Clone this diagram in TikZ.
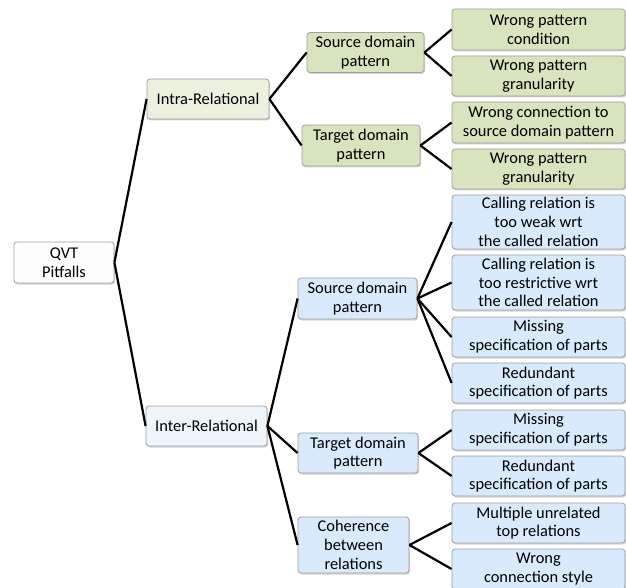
\documentclass[tikz,border=0pt]{standalone}
\usepackage{fontspec}
\setmainfont{Carlito}
\usetikzlibrary{shadows}

\definecolor{rootfill}{RGB}{253,253,253}
\definecolor{intrafill}{RGB}{235,241,222}
\definecolor{greenfill}{RGB}{215,228,189}
\definecolor{interfill}{RGB}{238,245,250}
\definecolor{bluefill}{RGB}{216,234,251}
\definecolor{boxline}{RGB}{160,160,160}

\tikzset{
  pitbox/.style={draw=boxline, line width=0.8pt, rounded corners=3pt,
    align=center, inner sep=0pt, font=\fontsize{16.4}{18.7}\selectfont,
    drop shadow={shadow xshift=1pt, shadow yshift=-1.5pt, opacity=0.35}},
  seg/.style={line width=2.2pt, black}
}

\begin{document}
\begin{tikzpicture}[x=1pt, y=-1pt]
                \useasboundingbox (0,0) rectangle (626,588);%

                % Marking node QVT Pitfalls
                \node [pitbox, fill=rootfill, minimum width=100pt, minimum height=41pt] (root) at (64.000000,262.500000) {QVT\\Pitfalls};%

                % Marking node Intra-Relational
                \node [pitbox, fill=intrafill, minimum width=122pt, minimum height=40pt] (intra) at (208.000000,99.000000) {Intra-Relational};%

                % Marking node Inter-Relational
                \node [pitbox, fill=interfill, minimum width=121pt, minimum height=40pt] (inter) at (206.500000,426.000000) {Inter-Relational};%

                % Marking node intra source domain pattern
                \node [pitbox, fill=greenfill, minimum width=117pt, minimum height=40pt] (intrasrc) at (365.500000,52.500000) {Source domain\\pattern};%

                % Marking node intra target domain pattern
                \node [pitbox, fill=greenfill, minimum width=118pt, minimum height=41pt] (intratgt) at (361.000000,145.500000) {Target domain\\pattern};%

                % Marking node inter source domain pattern
                \node [pitbox, fill=bluefill, minimum width=119pt, minimum height=41pt] (intersrc) at (357.500000,298.500000) {Source domain\\pattern};%

                % Marking node inter target domain pattern
                \node [pitbox, fill=bluefill, minimum width=120pt, minimum height=40pt] (intertgt) at (358.000000,453.000000) {Target domain\\pattern};%

                % Marking node coherence
                \node [pitbox, fill=bluefill, minimum width=111pt, minimum height=56pt] (coher) at (353.500000,545.000000) {Coherence\\between\\relations};%

                % Marking leaves of intra source domain pattern
                \node [pitbox, fill=greenfill, minimum width=173pt, minimum height=41pt] (leafa) at (538.500000,29.500000) {Wrong pattern\\condition};%
                \node [pitbox, fill=greenfill, minimum width=173pt, minimum height=40pt] (leafb) at (538.500000,76.000000) {Wrong pattern\\granularity};%

                % Marking leaves of intra target domain pattern
                \node [pitbox, fill=greenfill, minimum width=173pt, minimum height=41pt] (leafc) at (538.500000,122.500000) {Wrong connection to\\source domain pattern};%
                \node [pitbox, fill=greenfill, minimum width=173pt, minimum height=40pt] (leafd) at (538.500000,169.000000) {Wrong pattern\\granularity};%

                % Marking leaves of inter source domain pattern
                \node [pitbox, fill=bluefill, minimum width=173pt, minimum height=54pt] (leafe) at (538.500000,222.000000) {Calling relation is\\too weak wrt\\the called relation};%
                \node [pitbox, fill=bluefill, minimum width=173pt, minimum height=55pt] (leaff) at (538.500000,282.500000) {Calling relation is\\too restrictive wrt\\the called relation};%
                \node [pitbox, fill=bluefill, minimum width=173pt, minimum height=40pt] (leafg) at (538.500000,337.000000) {Missing\\specification of parts};%
                \node [pitbox, fill=bluefill, minimum width=173pt, minimum height=40pt] (leafh) at (538.500000,383.000000) {Redundant\\specification of parts};%

                % Marking leaves of inter target domain pattern
                \node [pitbox, fill=bluefill, minimum width=173pt, minimum height=40pt] (leafi) at (538.500000,430.000000) {Missing\\specification of parts};%
                \node [pitbox, fill=bluefill, minimum width=173pt, minimum height=40pt] (leafj) at (538.500000,476.000000) {Redundant\\specification of parts};%

                % Marking leaves of coherence
                \node [pitbox, fill=bluefill, minimum width=173pt, minimum height=40pt] (leafk) at (538.500000,523.000000) {Multiple unrelated\\top relations};%
                \node [pitbox, fill=bluefill, minimum width=173pt, minimum height=40pt] (leafl) at (538.500000,569.000000) {Wrong\\connection style};%

                % Drawing segments from root
                \draw [seg] (root.east) -- (intra.west);%
                \draw [seg] (root.east) -- (inter.west);%

                % Drawing segments from Intra-Relational
                \draw [seg] (intra.east) -- (intrasrc.west);%
                \draw [seg] (intra.east) -- (intratgt.west);%

                % Drawing segments from Inter-Relational
                \draw [seg] (inter.east) -- (intersrc.west);%
                \draw [seg] (inter.east) -- (intertgt.west);%
                \draw [seg] (inter.east) -- (coher.west);%

                % Drawing segments to leaves
                \draw [seg] (intrasrc.east) -- (leafa.west);%
                \draw [seg] (intrasrc.east) -- (leafb.west);%
                \draw [seg] (intratgt.east) -- (leafc.west);%
                \draw [seg] (intratgt.east) -- (leafd.west);%
                \draw [seg] (intersrc.east) -- (leafe.west);%
                \draw [seg] (intersrc.east) -- (leaff.west);%
                \draw [seg] (intersrc.east) -- (leafg.west);%
                \draw [seg] (intersrc.east) -- (leafh.west);%
                \draw [seg] (intertgt.east) -- (leafi.west);%
                \draw [seg] (intertgt.east) -- (leafj.west);%
                \draw [seg] (coher.east) -- (leafk.west);%
                \draw [seg] (coher.east) -- (leafl.west);%
\end{tikzpicture}
\end{document}
